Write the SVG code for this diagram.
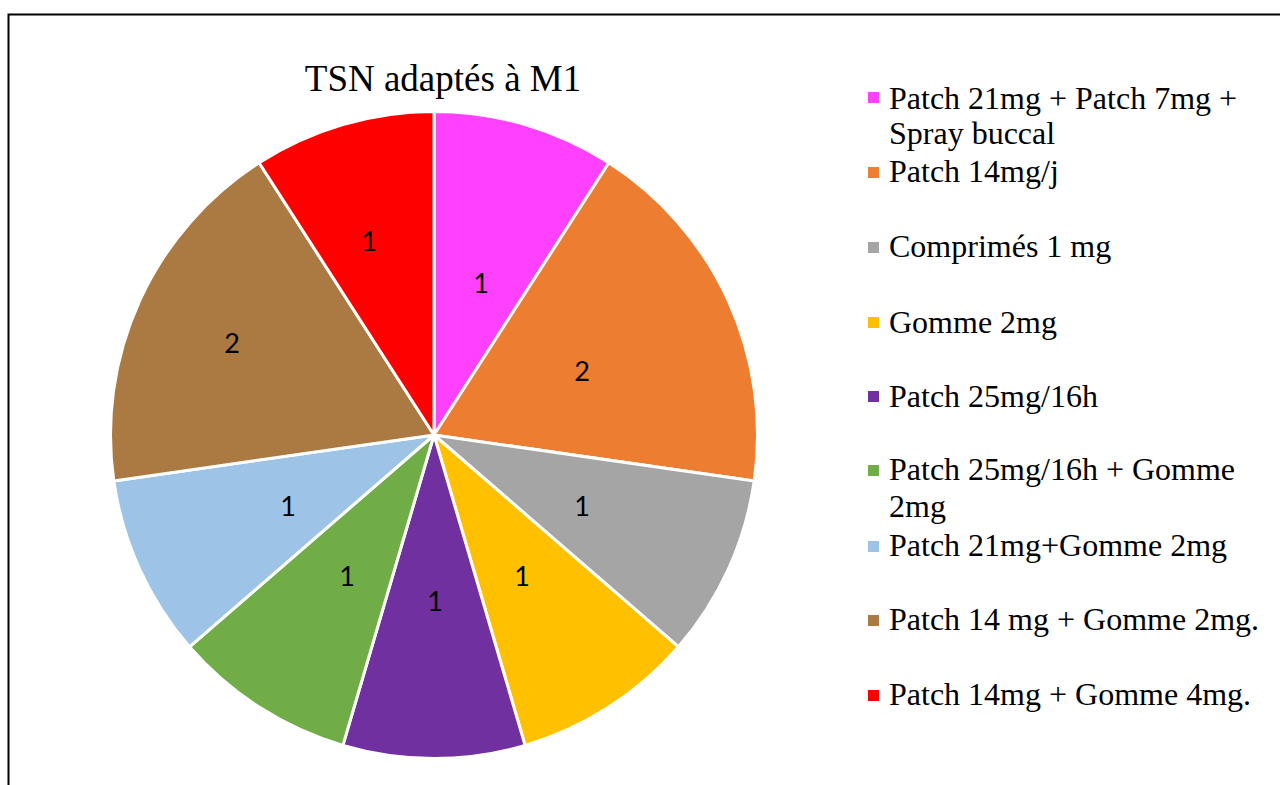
<svg xmlns="http://www.w3.org/2000/svg" width="1280" height="785" viewBox="0 0 1280 785">
<style>
.sl{stroke:#fff;stroke-width:3;stroke-linejoin:round}
.dl{font-family:Lato,"Liberation Sans",Arial,sans-serif;font-size:27px;fill:#000;text-anchor:middle;dominant-baseline:central}
.lg{font-family:"Liberation Serif","Times New Roman",serif;font-size:32px;fill:#000}
.title{font-family:"Liberation Serif","Times New Roman",serif;font-size:37px;fill:#000;text-anchor:middle}
</style>
<rect width="1280" height="785" fill="#fff"/>
<path d="M8.5,785 V14.5 H1280" fill="none" stroke="#000" stroke-width="2"/>
<text class="title" x="443" y="91">TSN adaptés à M1</text>
<g id="pie">
<g id="s-pink"><path class="sl" fill="#FF40FF" d="M434,435 L434,111.5 A323.5,323.5 0 0 1 608.9,162.8 Z"/><text class="dl" x="481" y="282">1</text></g>
<g id="s-orange"><path class="sl" fill="#ED7D31" d="M434,435 L608.9,162.8 A323.5,323.5 0 0 1 754.2,481 Z"/><text class="dl" x="582" y="370">2</text></g>
<g id="s-grey"><path class="sl" fill="#A5A5A5" d="M434,435 L754.2,481 A323.5,323.5 0 0 1 678.5,646.8 Z"/><text class="dl" x="582" y="505">1</text></g>
<g id="s-yellow"><path class="sl" fill="#FFC000" d="M434,435 L678.5,646.8 A323.5,323.5 0 0 1 525.1,745.4 Z"/><text class="dl" x="522" y="575">1</text></g>
<g id="s-purple"><path class="sl" fill="#7030A0" d="M434,435 L525.1,745.4 A323.5,323.5 0 0 1 342.9,745.4 Z"/><text class="dl" x="435" y="600">1</text></g>
<g id="s-green"><path class="sl" fill="#70AD47" d="M434,435 L342.9,745.4 A323.5,323.5 0 0 1 189.5,646.8 Z"/><text class="dl" x="347" y="575">1</text></g>
<g id="s-lightblue"><path class="sl" fill="#9DC3E6" d="M434,435 L189.5,646.8 A323.5,323.5 0 0 1 113.8,481 Z"/><text class="dl" x="288" y="505">1</text></g>
<g id="s-brown"><path class="sl" fill="#AB7942" d="M434,435 L113.8,481 A323.5,323.5 0 0 1 259.1,162.8 Z"/><text class="dl" x="232" y="342">2</text></g>
<g id="s-red"><path class="sl" fill="#FF0000" d="M434,435 L259.1,162.8 A323.5,323.5 0 0 1 434,111.5 Z"/><text class="dl" x="369" y="240">1</text></g>
</g>
<g id="legend">
<g id="l1"><rect x="868" y="92" width="11" height="11" fill="#FF40FF"/><text class="lg" x="889" y="109">Patch 21mg + Patch 7mg +</text><text class="lg" x="889" y="144">Spray buccal</text></g>
<g id="l2"><rect x="868" y="167" width="11" height="11" fill="#ED7D31"/><text class="lg" x="889" y="182">Patch 14mg/j</text></g>
<g id="l3"><rect x="868" y="242" width="11" height="11" fill="#A5A5A5"/><text class="lg" x="889" y="257">Comprimés 1 mg</text></g>
<g id="l4"><rect x="868" y="317" width="11" height="11" fill="#FFC000"/><text class="lg" x="889" y="333">Gomme 2mg</text></g>
<g id="l5"><rect x="868" y="391" width="11" height="11" fill="#7030A0"/><text class="lg" x="889" y="407">Patch 25mg/16h</text></g>
<g id="l6"><rect x="868" y="465" width="11" height="11" fill="#70AD47"/><text class="lg" x="889" y="480">Patch 25mg/16h + Gomme</text><text class="lg" x="889" y="517">2mg</text></g>
<g id="l7"><rect x="868" y="541" width="11" height="11" fill="#9DC3E6"/><text class="lg" x="889" y="556">Patch 21mg+Gomme 2mg</text></g>
<g id="l8"><rect x="868" y="615" width="11" height="11" fill="#AB7942"/><text class="lg" x="889" y="630">Patch 14 mg + Gomme 2mg.</text></g>
<g id="l9"><rect x="868" y="690" width="11" height="11" fill="#FF0000"/><text class="lg" x="889" y="705">Patch 14mg + Gomme 4mg.</text></g>
</g>
</svg>
